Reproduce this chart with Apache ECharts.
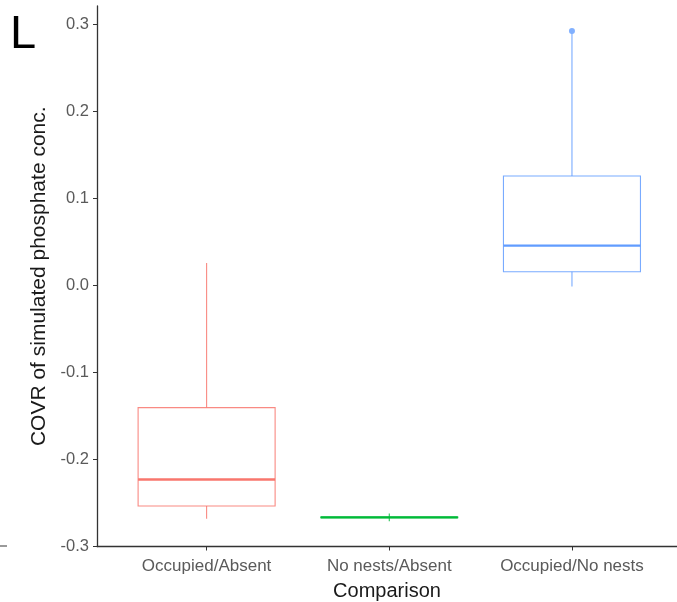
<!DOCTYPE html>
<html>
<head>
<meta charset="utf-8">
<script src="https://cdn.jsdelivr.net/npm/echarts@6/dist/echarts.min.js"></script>
<style>
  html, body { margin: 0; padding: 0; background: #fff; }
  #chart { width: 677px; height: 602px; }
</style>
</head>
<body>
<div id="chart"></div>
<script>
// Comparison groups along the x axis
const categories = ['Occupied/Absent', 'No nests/Absent', 'Occupied/No nests'];
// Box statistics per group: [lower whisker, Q1, median, Q3, upper whisker]
const boxStats = [
  [-0.268, -0.2535, -0.223, -0.1405, 0.0255],
  [-0.271, -0.2668, -0.2665, -0.2662, -0.262],
  [-0.0015, 0.0155, 0.0455, 0.1255, 0.289]
];
// Outlying points: [group index, value]
const outliers = [[2, 0.292]];
const groupColors = ['#F8766D', '#00BA38', '#619CFF'];
const yTicks = [-0.3, -0.2, -0.1, 0.0, 0.1, 0.2, 0.3];

const boxData = boxStats.map((s, i) => [i + 1].concat(s));
const outlierData = outliers.map(o => [o[0] + 1, o[1]]);

const chart = echarts.init(document.getElementById('chart'), null, { renderer: 'canvas' });

function renderBox(params, api) {
  const x = api.value(0);
  const lo = api.value(1), q1 = api.value(2), med = api.value(3), q3 = api.value(4), hi = api.value(5);
  const color = groupColors[params.dataIndex];
  const half = api.size([0.375, 0])[0];
  const pLo = api.coord([x, lo]);
  const pQ1 = api.coord([x, q1]);
  const pMed = api.coord([x, med]);
  const pQ3 = api.coord([x, q3]);
  const pHi = api.coord([x, hi]);
  const cx = pMed[0];
  const lineStyle = { stroke: color, lineWidth: 1.1, fill: null, opacity: 0.85 };
  return {
    type: 'group',
    children: [
      { type: 'line', shape: { x1: cx, y1: pHi[1], x2: cx, y2: pQ3[1] }, style: lineStyle },
      { type: 'line', shape: { x1: cx, y1: pQ1[1], x2: cx, y2: pLo[1] }, style: lineStyle },
      { type: 'rect', shape: { x: cx - half, y: pQ3[1], width: half * 2, height: pQ1[1] - pQ3[1] }, style: lineStyle },
      { type: 'line', shape: { x1: cx - half, y1: pMed[1], x2: cx + half, y2: pMed[1] }, style: { stroke: color, lineWidth: 2.4 } }
    ]
  };
}

const option = {
  backgroundColor: '#ffffff',
  animation: false,
  grid: { left: 97, right: 0, top: 6, bottom: 55.5, containLabel: false, outerBoundsMode: 'none' },
  xAxis: {
    type: 'value',
    min: 0.4,
    max: 3.575,
    name: 'Comparison',
    nameLocation: 'middle',
    nameGap: 35,
    nameTextStyle: { fontFamily: 'Liberation Sans', fontSize: 20, color: '#1a1a1a' },
    splitLine: { show: false },
    axisLine: { show: true, onZero: false, lineStyle: { color: '#333', width: 1.3 } },
    axisTick: { show: true, length: 4, lineStyle: { color: '#333' }, customValues: [1, 2, 3] },
    axisLabel: {
      customValues: [1, 2, 3],
      formatter: v => categories[Math.round(v) - 1] || '',
      fontFamily: 'Liberation Sans', fontSize: 17, color: '#5a5a5a', margin: 11
    }
  },
  yAxis: {
    type: 'value',
    min: -0.3,
    max: 0.3207,
    name: 'COVR of simulated phosphate conc.',
    nameLocation: 'middle',
    nameGap: 30,
    nameTextStyle: { fontFamily: 'Liberation Sans', fontSize: 21, color: '#1a1a1a' },
    splitLine: { show: false },
    axisLine: { show: true, onZero: false, lineStyle: { color: '#333', width: 1.3 } },
    axisTick: { show: true, length: 4, lineStyle: { color: '#333' }, customValues: yTicks },
    axisLabel: {
      customValues: yTicks,
      formatter: v => v.toFixed(1),
      fontFamily: 'Liberation Sans', fontSize: 16.5, color: '#5a5a5a', margin: 8
    }
  },
  graphic: [
    { type: 'text', left: 10, top: 12, style: { text: 'L', fontFamily: 'Liberation Sans', fontSize: 47, fill: '#000' } },
    { type: 'rect', shape: { x: 0, y: 545, width: 7, height: 2 }, style: { fill: '#9a9a9a' } }
  ],
  series: [
    {
      type: 'custom',
      renderItem: renderBox,
      data: boxData,
      encode: { x: 0, y: [1, 2, 3, 4, 5] },
      clip: false
    },
    {
      type: 'scatter',
      data: outlierData,
      symbolSize: 6,
      itemStyle: { color: groupColors[2] }
    }
  ]
};

chart.setOption(option);
</script>
</body>
</html>
